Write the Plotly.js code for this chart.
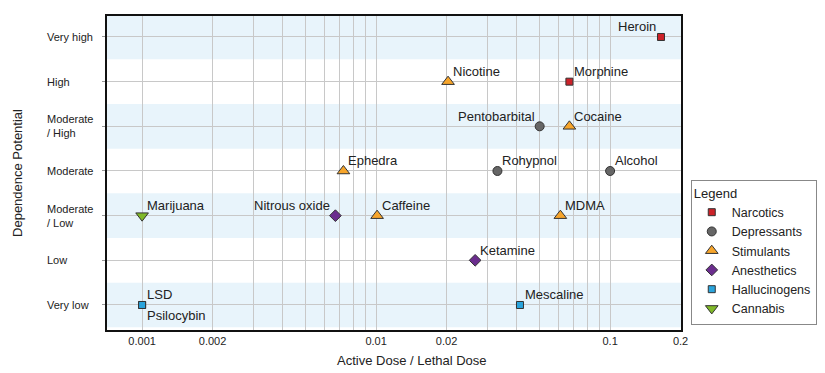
<!DOCTYPE html>
<html>
<head>
<meta charset="utf-8">
<script src="https://cdn.plot.ly/plotly-3.0.1.min.js"></script>
<style>html,body{margin:0;padding:0;background:#fff;}#chart{width:825px;height:373px;}</style>
</head>
<body>
<div id="chart"></div>
<script>
// ---- data ----
const categories = ["Very low", "Low", "Moderate / Low", "Moderate", "Moderate / High", "High", "Very high"];
const categoryLabels = ["Very low", "Low", "Moderate<br>/ Low", "Moderate", "Moderate<br>/ High", "High", "Very high"];
const groups = ["Narcotics", "Depressants", "Stimulants", "Anesthetics", "Hallucinogens", "Cannabis"];

const drugNames   = ["Heroin", "Morphine", "Pentobarbital", "Rohypnol", "Alcohol", "Nicotine", "Cocaine", "Ephedra", "Caffeine", "MDMA", "Nitrous oxide", "Ketamine", "LSD", "Psilocybin", "Mescaline", "Marijuana"];
const drugGroup   = ["Narcotics", "Narcotics", "Depressants", "Depressants", "Depressants", "Stimulants", "Stimulants", "Stimulants", "Stimulants", "Stimulants", "Anesthetics", "Anesthetics", "Hallucinogens", "Hallucinogens", "Hallucinogens", "Cannabis"];
const activeLethal = [0.165, 0.067, 0.05, 0.033, 0.1, 0.0203, 0.067, 0.00725, 0.0101, 0.0613, 0.0067, 0.0265, 0.001, 0.001, 0.0412, 0.001];
const dependence  = ["Very high", "High", "Moderate / High", "Moderate", "Moderate", "High", "Moderate / High", "Moderate", "Moderate / Low", "Moderate / Low", "Moderate / Low", "Low", "Very low", "Very low", "Very low", "Moderate / Low"];

const xGridVals = [0.001,0.002,0.003,0.004,0.005,0.006,0.007,0.008,0.009,
                   0.01,0.02,0.03,0.04,0.05,0.06,0.07,0.08,0.09,0.1,0.2];
const xTickText = {0.001:"0.001", 0.002:"0.002", 0.01:"0.01", 0.02:"0.02", 0.1:"0.1", 0.2:"0.2"};
const shadedCategories = ["Very low", "Moderate / Low", "Moderate / High", "Very high"];
const xTitle = "Active Dose / Lethal Dose";
const yTitle = "Dependence Potential";

// ---- styles ----
const labelSide = {"Heroin":"left", "Pentobarbital":"left", "Nitrous oxide":"left"};
const labelBelow = {"Psilocybin": true};
const groupStyle = {
  "Narcotics":     {symbol:"square", size:7, color:"#cc2229"},
  "Depressants":   {symbol:"circle", size:9, color:"#666666"},
  "Stimulants":    {symbol:"triangle-up", size:11, color:"#f7a52b"},
  "Anesthetics":   {symbol:"diamond", size:9, color:"#6b2d8e"},
  "Hallucinogens": {symbol:"square", size:7, color:"#2aa4dc"},
  "Cannabis":      {symbol:"triangle-down", size:11, color:"#80b929"}
};
const FONT = "Liberation Sans, Arial, sans-serif";
const TXT = "#222";

const yIndex = c => categories.indexOf(c);

const traces = groups.map(g => {
  const idx = drugNames.map((n, i) => i).filter(i => drugGroup[i] === g);
  const st = groupStyle[g];
  return {
    type: "scatter", mode: "markers", name: g,
    x: idx.map(i => activeLethal[i]),
    y: idx.map(i => yIndex(dependence[i])),
    text: idx.map(i => drugNames[i]),
    marker: {symbol: st.symbol, size: st.size, color: st.color, line: {color: "#333", width: 1}},
    cliponaxis: false,
    hoverinfo: "x+y+text"
  };
});

const shapes = shadedCategories.map(c => ({
  type: "rect", xref: "paper", yref: "y", layer: "below",
  x0: 0, x1: 1, y0: yIndex(c) - 0.5, y1: yIndex(c) + 0.5,
  fillcolor: "#e8f4fb", line: {width: 0}
}));

const annotations = [];
categories.forEach((c, i) => annotations.push({
  xref: "paper", yref: "y", x: -0.108, y: i, xanchor: "left", yanchor: "middle",
  text: categoryLabels[i], showarrow: false, align: "left",
  font: {family: FONT, size: 11, color: TXT}
}));
drugNames.forEach((n, i) => {
  const left = labelSide[n] === "left";
  const below = !!labelBelow[n];
  annotations.push({
    xref: "x", yref: "y", x: Math.log10(activeLethal[i]), y: yIndex(dependence[i]),
    text: n, showarrow: false,
    xanchor: left ? "right" : "left", yanchor: "middle",
    xshift: left ? -3 : 3, yshift: below ? -11 : 10,
    font: {family: FONT, size: 13, color: TXT}
  });
});
annotations.push({
  xref: "paper", yref: "paper", x: 0.532, y: -0.096, xanchor: "center", yanchor: "middle",
  text: xTitle, showarrow: false, font: {family: FONT, size: 13, color: TXT}
});

const layout = {
  width: 825, height: 373,
  margin: {l: 107, r: 144, t: 16, b: 43, autoexpand: false},
  paper_bgcolor: "#fff", plot_bgcolor: "#fff",
  font: {family: FONT, size: 11, color: TXT},
  showlegend: true,
  legend: {
    x: 1.017, y: 0.017, xanchor: "left", yanchor: "bottom",
    bgcolor: "#fff", bordercolor: "#888", borderwidth: 1,
    title: {text: "Legend", font: {family: FONT, size: 13, color: TXT}},
    font: {family: FONT, size: 12.5, color: TXT},
    itemwidth: 30, tracegroupgap: 0
  },
  xaxis: {
    type: "log", range: [-3.15, -0.697],
    tickvals: xGridVals, ticktext: xGridVals.map(v => xTickText[v] || ""),
    showgrid: true, gridcolor: "#c8c8c8", gridwidth: 1,
    showline: true, linecolor: "#111", linewidth: 2, mirror: true,
    ticks: "", zeroline: false,
    tickfont: {family: FONT, size: 11, color: TXT}
  },
  yaxis: {
    range: [-0.56, 6.47], tickvals: categories.map((c, i) => i),
    showticklabels: false,
    showgrid: true, gridcolor: "#c8c8c8", gridwidth: 1,
    showline: true, linecolor: "#111", linewidth: 2, mirror: true,
    ticks: "outside", ticklen: 3, tickcolor: "#999", zeroline: false,
    title: {text: yTitle, font: {family: FONT, size: 13, color: TXT}, standoff: 76}
  },
  shapes: shapes,
  annotations: annotations
};

Plotly.newPlot("chart", traces, layout, {displayModeBar: false, staticPlot: true});
</script>
</body>
</html>
